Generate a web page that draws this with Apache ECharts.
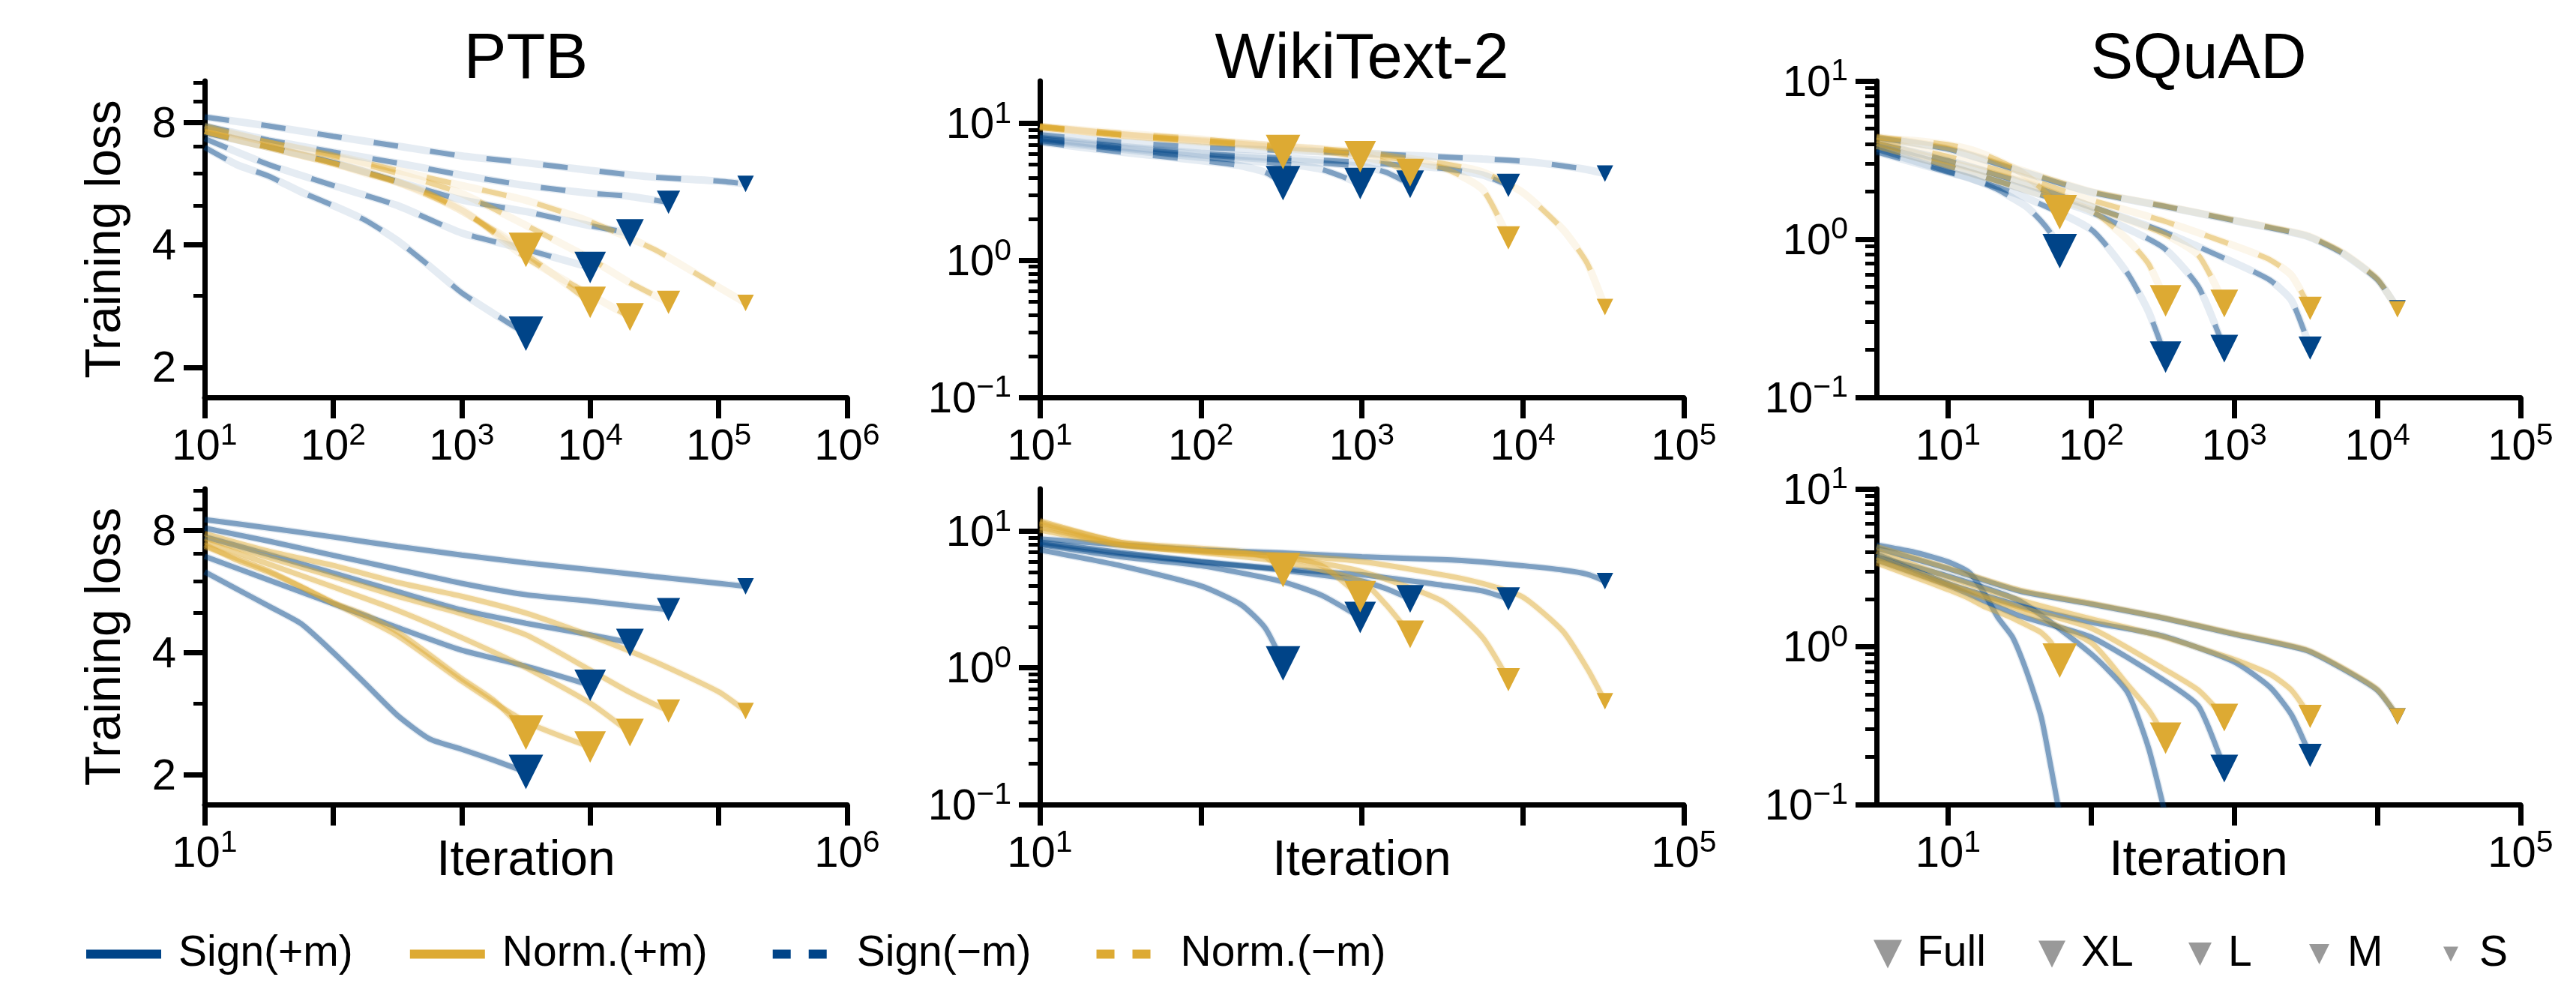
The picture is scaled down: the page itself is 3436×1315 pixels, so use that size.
<!DOCTYPE html>
<html>
<head>
<meta charset="utf-8">
<script src="https://cdn.jsdelivr.net/npm/echarts@6.0.0/dist/echarts.min.js"></script>
<style>
  html, body { margin: 0; padding: 0; background: #fff; }
  #chart { width: 3436px; height: 1315px; }
</style>
</head>
<body>
<div id="chart"></div>
<script>
const FONT = 'Liberation Sans, Arial, Helvetica, sans-serif';
const SIGN = '#004488';
const NORM = '#DDAA33';

const sizeNames = ['Full', 'XL', 'L', 'M', 'S'];
const methodNames = ['Sign(+m)', 'Norm.(+m)', 'Sign(\u2212m)', 'Norm.(\u2212m)'];

// iterations at each read-off point, one row per model size (Full, XL, L, M, S)
const ptbIters = [
  [10, 17.8, 31.6, 56.2, 100, 178, 316, 562, 1000, 1778, 3162],
  [10, 31.6, 100, 316, 1000, 3162, 10000],
  [10, 31.6, 100, 316, 1000, 3162, 10000, 20400],
  [10, 31.6, 100, 316, 1000, 3162, 10000, 20000, 40700],
  [10, 31.6, 100, 316, 1000, 3162, 10000, 31600, 100000, 162000]
];
// training loss, same layout
const ptbSignNoMom = [
  [6.95, 6.3, 5.9, 5.4, 5.0, 4.6, 4.1, 3.55, 3.05, 2.71, 2.42],
  [7.3, 6.3, 5.6, 5.0, 4.28, 3.9, 3.52],
  [7.55, 6.96, 6.38, 5.73, 5.16, 4.83, 4.46, 4.28],
  [7.85, 7.24, 6.77, 6.36, 5.94, 5.6, 5.36, 5.27, 5.09],
  [8.25, 7.84, 7.4, 7.0, 6.62, 6.37, 6.1, 5.87, 5.74, 5.65]
];
const ptbNormNoMom = [
  [7.6, 7.25, 6.95, 6.65, 6.35, 6.0, 5.7, 5.35, 4.85, 4.35, 3.89],
  [7.6, 6.95, 6.35, 5.7, 4.85, 3.8, 2.89],
  [7.6, 6.95, 6.35, 5.72, 4.9, 3.72, 3.02, 2.66],
  [7.75, 7.15, 6.6, 6.0, 5.35, 4.47, 3.7, 3.24, 2.89],
  [7.85, 7.15, 6.65, 6.1, 5.6, 5.15, 4.56, 3.9, 3.15, 2.88]
];
const ptbSignMom = [
  [6.32, 5.73, 5.2, 4.71, 4.0, 3.35, 2.8, 2.45, 2.31, 2.17, 2.03],
  [6.9, 6.03, 5.27, 4.61, 4.05, 3.7, 3.32],
  [7.71, 6.97, 6.28, 5.65, 5.09, 4.72, 4.42, 4.23],
  [8.1, 7.52, 6.94, 6.41, 5.92, 5.55, 5.35, 5.22, 5.1],
  [8.5, 8.1, 7.7, 7.3, 6.95, 6.65, 6.4, 6.15, 5.92, 5.82]
];
const ptbNormMom = [
  [7.38, 6.75, 6.3, 5.8, 5.3, 4.95, 4.5, 3.95, 3.45, 3.05, 2.54],
  [7.3, 6.35, 5.3, 4.4, 3.4, 2.7, 2.34],
  [7.5, 6.6, 5.8, 5.08, 4.35, 3.67, 3.0, 2.54],
  [7.65, 6.85, 6.15, 5.5, 4.98, 4.42, 3.62, 3.2, 2.87],
  [7.85, 7.1, 6.55, 5.95, 5.5, 5.0, 4.4, 3.8, 3.2, 2.87]
];

const wikiIters = [
  [10, 31.6, 100, 178, 251, 324],
  [10, 31.6, 100, 316, 562, 977],
  [10, 31.6, 100, 316, 1000, 1413, 1995],
  [10, 31.6, 100, 316, 1000, 3162, 5623, 8128],
  [10, 31.6, 100, 316, 1000, 3162, 5623, 10000, 17780, 25120, 32360]
];
const wikiSignNoMom = [
  [7.3, 6.18, 5.35, 4.9, 4.4, 3.67],
  [7.5, 6.5, 5.66, 5.09, 4.62, 3.64],
  [7.7, 6.65, 5.9, 5.4, 4.86, 4.4, 3.6],
  [7.9, 6.8, 6.05, 5.6, 5.2, 4.7, 4.2, 3.53],
  [8.3, 7.3, 6.7, 6.35, 6.05, 5.7, 5.5, 5.3, 4.9, 4.6, 4.31]
];
const wikiNormNoMom = [
  [9.5, 8.2, 7.3, 7.0, 6.7, 6.18],
  [9.5, 8.26, 7.5, 6.8, 6.5, 5.72],
  [9.5, 8.26, 7.4, 6.65, 5.75, 5.2, 4.37],
  [9.3, 8.26, 7.5, 6.8, 6.04, 4.75, 3.3, 1.46],
  [9.5, 8.5, 7.7, 6.8, 6.2, 5.1, 4.42, 3.13, 1.68, 0.95, 0.457]
];
const wikiSignMom = [
  [7.3, 5.6, 3.98, 2.9, 1.96, 1.08],
  [8.0, 6.5, 5.6, 4.3, 3.4, 2.34],
  [8.1, 6.84, 5.95, 5.2, 4.32, 3.8, 3.2],
  [8.36, 7.0, 6.0, 5.3, 4.8, 4.03, 3.66, 3.2],
  [8.8, 7.95, 7.3, 6.95, 6.5, 6.2, 5.95, 5.6, 5.2, 4.85, 4.32]
];
const wikiNormMom = [
  [11.9, 8.3, 7.5, 7.1, 6.5, 5.2],
  [11.6, 8.3, 7.2, 6.5, 5.6, 3.32],
  [11.3, 7.95, 7.0, 6.0, 4.3, 2.9, 1.76],
  [10.7, 8.0, 7.2, 6.5, 5.07, 3.08, 1.67, 0.82],
  [10.2, 7.9, 7.1, 6.7, 6.0, 4.8, 4.15, 3.3, 1.85, 0.99, 0.57]
];

const squadIters = [
  [3.1623, 5.62, 10, 14.1, 17.8, 22.4, 28.2, 35.5, 44.7, 52.5, 60.3],
  [3.1623, 10, 31.6, 100, 178, 251, 331],
  [3.1623, 10, 31.6, 100, 316, 562, 851],
  [3.1623, 10, 31.6, 100, 316, 1000, 1778, 2512, 3388],
  [3.1623, 10, 31.6, 100, 316, 1000, 3162, 5623, 10000, 13800]
];
const squadSignNoMom = [
  [3.56, 3.07, 2.65, 2.45, 2.25, 2.05, 1.82, 1.6, 1.3, 1.08, 0.84],
  [3.71, 2.68, 1.9, 1.15, 0.615, 0.35, 0.18],
  [3.86, 2.9, 2.11, 1.48, 0.89, 0.5, 0.203],
  [4.03, 3.14, 2.3, 1.61, 1.12, 0.71, 0.55, 0.41, 0.205],
  [4.38, 3.71, 2.7, 1.98, 1.62, 1.31, 1.05, 0.82, 0.555, 0.365]
];
const squadNormNoMom = [
  [4.38, 4.21, 3.96, 3.7, 3.44, 3.15, 2.85, 2.5, 2.1, 1.8, 1.48],
  [3.86, 2.9, 2.11, 1.52, 1.0, 0.7, 0.408],
  [4.03, 3.07, 2.34, 1.61, 1.09, 0.79, 0.392],
  [4.21, 3.33, 2.5, 1.77, 1.31, 0.91, 0.74, 0.59, 0.365],
  [4.45, 3.75, 2.75, 2.0, 1.63, 1.32, 1.06, 0.83, 0.56, 0.36]
];
const squadSignMom = [
  [4.41, 4.0, 3.45, 2.95, 2.2, 1.52, 1.15, 0.69, 0.36, 0.17, 0.085],
  [3.7, 2.8, 1.95, 0.9, 0.52, 0.23, 0.085],
  [3.55, 2.45, 1.57, 1.15, 0.62, 0.42, 0.169],
  [3.87, 2.51, 1.82, 1.43, 1.17, 0.8, 0.553, 0.37, 0.205],
  [4.22, 3.12, 2.25, 1.86, 1.52, 1.2, 0.95, 0.73, 0.53, 0.362]
];
const squadNormMom = [
  [3.4, 2.8, 2.3, 2.02, 1.8, 1.66, 1.52, 1.37, 1.23, 1.06, 0.816],
  [3.55, 2.45, 1.71, 1.06, 0.58, 0.4, 0.263],
  [3.7, 2.51, 1.78, 1.31, 0.73, 0.53, 0.356],
  [4.02, 2.76, 1.98, 1.5, 1.16, 0.83, 0.67, 0.53, 0.362],
  [4.3, 3.15, 2.28, 1.88, 1.53, 1.21, 0.96, 0.74, 0.535, 0.362]
];

// tick values
const ptbYMajor = [2, 4, 8];
const ptbYMinor = [3, 5, 6, 7, 9, 10];
const decadeYMajor = [0.1, 1, 10];
const decadeYMinor = [0.2, 0.3, 0.4, 0.5, 0.6, 0.7, 0.8, 0.9, 2, 3, 4, 5, 6, 7, 8, 9];
const ptbXTicks = [10, 100, 1000, 1e4, 1e5, 1e6];
const shortXTicks = [10, 100, 1000, 1e4, 1e5];

const lg = Math.log10;

// layout
const colLeft = [273, 1387, 2503];
const colWidth = [857, 859, 859];
const rowTop = [108, 652];
const rowHeight = [422, 421];
const markerSizes = [46, 42, 37, 31, 22];

const panels = [
  { title: 'PTB', iters: ptbIters, rows: [[ptbSignNoMom, ptbNormNoMom], [ptbSignMom, ptbNormMom]],
    x: [1, 6], y: [0.2273, 1.005], xt: ptbXTicks, yMajor: ptbYMajor, yMinor: ptbYMinor, plainY: true },
  { title: 'WikiText-2', iters: wikiIters, rows: [[wikiSignNoMom, wikiNormNoMom], [wikiSignMom, wikiNormMom]],
    x: [1, 5], y: [-1, 1.31], xt: shortXTicks, yMajor: decadeYMajor, yMinor: decadeYMinor },
  { title: 'SQuAD', iters: squadIters, rows: [[squadSignNoMom, squadNormNoMom], [squadSignMom, squadNormMom]],
    x: [0.5, 5], y: [-1, 1], xt: shortXTicks, yMajor: decadeYMajor, yMinor: decadeYMinor }
];

const rich = {
  b: { fontSize: 58, lineHeight: 65, verticalAlign: 'bottom', fontFamily: FONT, color: '#000' },
  s: { fontSize: 41, lineHeight: 41, verticalAlign: 'top', fontFamily: FONT, color: '#000' }
};
function powLabel(v) {
  const e = Math.round(v);
  return '{b|10}{s|' + (e < 0 ? '\u2212' + (-e) : e) + '}';
}
function plainLabel(v) {
  return '{b|' + Math.round(Math.pow(10, v)) + '}';
}

const grid = [], xAxis = [], yAxis = [], series = [], title = [];
const nameStyle = { fontSize: 66, color: '#000', fontFamily: FONT };

panels.forEach((P, col) => {
  title.push({
    text: P.title, left: colLeft[col] + colWidth[col] / 2, top: 38, textAlign: 'center', padding: 0,
    textStyle: { fontSize: 85, fontWeight: 'normal', color: '#000', fontFamily: FONT }
  });
  [0, 1].forEach(row => {
    const g = grid.length;
    grid.push({ left: colLeft[col], top: rowTop[row], width: colWidth[col], height: rowHeight[row], containLabel: false });
    const xt = P.xt.map(lg);
    xAxis.push({
      type: 'value', gridIndex: g, min: P.x[0], max: P.x[1],
      axisLine: { show: true, onZero: false, lineStyle: { color: '#000', width: 7 } },
      axisTick: { show: true, length: 28, lineStyle: { color: '#000', width: 7 }, customValues: xt },
      axisLabel: { show: true, margin: 31, customValues: row === 0 ? xt : [xt[0], xt[xt.length - 1]],
        formatter: powLabel, rich: rich },
      splitLine: { show: false },
      name: row === 1 ? 'Iteration' : '', nameLocation: 'middle', nameGap: 43, nameMoveOverlap: false,
      nameTextStyle: nameStyle
    });
    yAxis.push({
      type: 'value', gridIndex: g, position: 'left', min: P.y[0], max: P.y[1],
      axisLine: { show: true, onZero: false, lineStyle: { color: '#000', width: 7 } },
      axisTick: { show: true, length: 28, lineStyle: { color: '#000', width: 7 }, customValues: P.yMajor.map(lg) },
      axisLabel: { show: true, margin: 38, customValues: P.yMajor.map(lg),
        formatter: P.plainY ? plainLabel : powLabel, rich: rich },
      splitLine: { show: false },
      name: col === 0 ? 'Training loss' : '', nameLocation: 'middle', nameGap: 98, nameMoveOverlap: false,
      nameTextStyle: nameStyle
    });
    yAxis.push({
      type: 'value', gridIndex: g, position: 'left', min: P.y[0], max: P.y[1],
      axisLine: { show: false, onZero: false },
      axisTick: { show: true, length: 15, lineStyle: { color: '#000', width: 5 }, customValues: P.yMinor.map(lg) },
      axisLabel: { show: false },
      splitLine: { show: false }
    });

    const dashed = row === 0;
    const colors = [SIGN, NORM];
    const ends = [[], []];
    P.rows[row].forEach((curves, m) => {
      curves.forEach((losses, s) => {
        const data = P.iters[s].map((it, i) => [lg(it), lg(losses[i])]);
        ends[m].push({ value: data[data.length - 1], symbolSize: markerSizes[s] });
        const base = {
          type: 'line', xAxisIndex: g, yAxisIndex: 2 * g, data: data, symbol: 'none',
          smooth: 0.2, silent: true, animation: false
        };
        series.push(Object.assign({}, base, {
          name: P.title + ' band ' + m + s + row, z: 2,
          lineStyle: { color: colors[m], width: 10, opacity: 0.1 }
        }));
        series.push(Object.assign({}, base, {
          name: P.title + ' ' + methodNames[(1 - row) * 2 + m] + ' ' + sizeNames[s], z: 3,
          lineStyle: { color: colors[m], width: 7, opacity: 0.45, type: dashed ? [33, 43] : 'solid', cap: 'butt' }
        }));
      });
    });
    ends.forEach((pts, m) => {
      series.push({
        type: 'scatter', xAxisIndex: g, yAxisIndex: 2 * g, name: P.title + ' end ' + m + row,
        symbol: 'triangle', symbolRotate: 180, data: pts, clip: true, silent: true, z: 5 + m,
        itemStyle: { color: colors[m], opacity: 1 }
      });
    });
  });
});

// series only used to feed the legends
[SIGN, NORM, SIGN, NORM].forEach((c, i) => {
  series.push({ name: methodNames[i], type: 'line', xAxisIndex: 0, yAxisIndex: 0, data: [], itemStyle: { color: c } });
});
sizeNames.forEach(n => {
  series.push({ name: n, type: 'scatter', xAxisIndex: 0, yAxisIndex: 0, data: [], itemStyle: { color: '#808080' } });
});

const DASH_ICON = 'path://M0,0M100,12M11,0H35V12H11ZM59,0H83V12H59Z';
const TRI_ICON = 'path://M0,0L2,0L1,2Z';
const legendText = { fontSize: 57, color: '#000', fontFamily: FONT };
const legend = [{
  left: 115, top: 1244, padding: 0, orient: 'horizontal', itemGap: 76, itemWidth: 100, itemHeight: 12,
  selectedMode: false, textStyle: Object.assign({ padding: [0, 0, 0, 18] }, legendText),
  data: [
    { name: methodNames[0], icon: 'rect' },
    { name: methodNames[1], icon: 'rect' },
    { name: methodNames[2], icon: DASH_ICON },
    { name: methodNames[3], icon: DASH_ICON }
  ]
}];
const legendLeft = [2499, 2719, 2919, 3080, 3259];
const legendSize = [38, 36, 31, 27, 20];
const legendPad = [15, 16, 17, 19, 23];
sizeNames.forEach((n, i) => {
  legend.push({
    left: legendLeft[i], top: 1244, padding: 0, itemWidth: legendSize[i], itemHeight: legendSize[i],
    icon: TRI_ICON, selectedMode: false,
    textStyle: Object.assign({ padding: [0, 0, 0, legendPad[i]] }, legendText),
    data: [n]
  });
});

const chart = echarts.init(document.getElementById('chart'), null, { renderer: 'canvas' });
chart.setOption({
  animation: false,
  backgroundColor: '#fff',
  textStyle: { fontFamily: FONT, color: '#000' },
  title: title,
  legend: legend,
  grid: grid,
  xAxis: xAxis,
  yAxis: yAxis,
  series: series
});
</script>
</body>
</html>
